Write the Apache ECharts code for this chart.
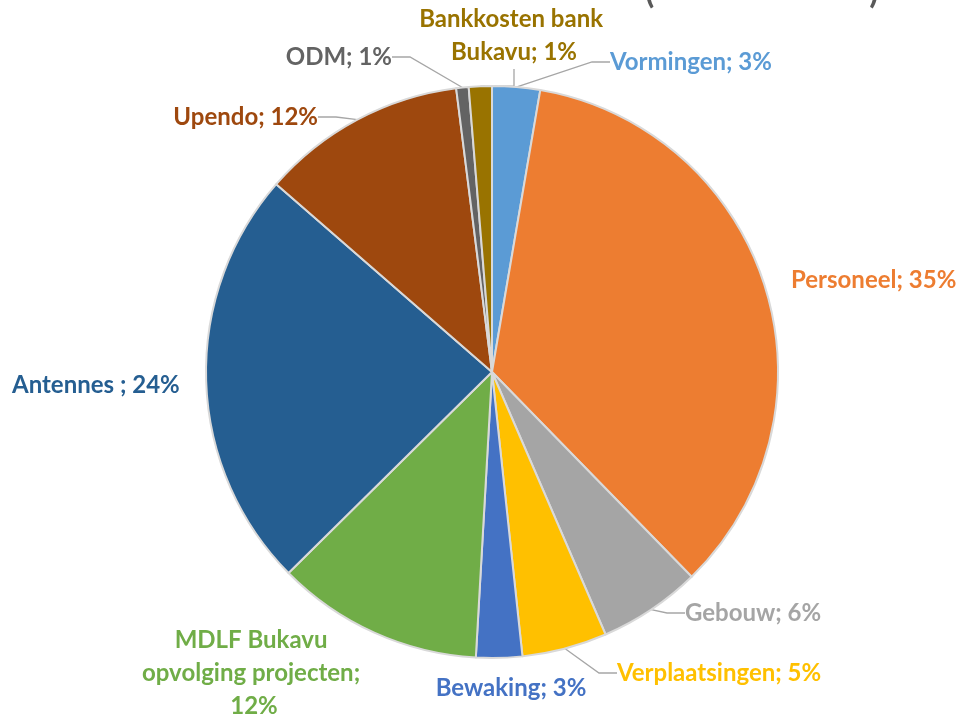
<!DOCTYPE html>
<html>
<head>
<meta charset="utf-8">
<script src="https://cdn.jsdelivr.net/npm/echarts@6/dist/echarts.min.js"></script>
<style>
html,body{margin:0;padding:0;background:#fff;}
#chart{width:962px;height:720px;}
</style>
</head>
<body>
<div id="chart"></div>
<script>
// Data (percent shares)
const categories = ['Vormingen', 'Personeel', 'Gebouw', 'Verplaatsingen', 'Bewaking',
  'MDLF Bukavu opvolging projecten', 'Antennes ', 'Upendo', 'ODM', 'Bankkosten bank Bukavu'];
const values = [2.7, 35.0, 5.8, 4.8, 2.6, 11.7, 23.8, 11.6, 0.7, 1.3];
const colors = ['#5B9BD5', '#ED7D31', '#A5A5A5', '#FFC000', '#4472C4',
  '#70AD47', '#255E91', '#9E480E', '#636363', '#997300'];
const showLeader = [true, false, true, true, false, false, false, true, true, true];

// label placement (layout only)
const labelPos = [
  {x: 610, y: 62, align: 'left'},
  {x: 791, y: 280, align: 'left'},
  {x: 685, y: 613, align: 'left'},
  {x: 617, y: 673, align: 'left'},
  {x: 511, y: 688, align: 'center'},
  {x: 254, y: 673, align: 'center'},
  {x: 12, y: 385, align: 'left'},
  {x: 318, y: 117, align: 'right'},
  {x: 392, y: 57, align: 'right'},
  {x: 514, y: 36, align: 'center'}
];
const labelWidth = [null, null, null, null, null, 240, null, null, null, 210];

const chart = echarts.init(document.getElementById('chart'), null, {renderer: 'canvas'});
const data = categories.map((n, i) => {
  const item = {
    name: n,
    value: values[i],
    itemStyle: {color: colors[i]},
    label: {color: colors[i], overflow: 'none'},
    labelLine: {show: showLeader[i]}
  };
  if (labelWidth[i]) {
    item.label.width = labelWidth[i];
    item.label.overflow = 'break';
    item.label.align = 'center';
  }
  return item;
});

chart.setOption({
  animation: false,
  title: {
    text: '(                          )',
    left: 640,
    top: -30,
    textStyle: {fontFamily: 'Lato', fontWeight: 'bold', fontSize: 34, color: '#595959'}
  },
  series: [{
    type: 'pie',
    center: [492, 372],
    radius: 286,
    startAngle: 90,
    clockwise: true,
    data: data,
    itemStyle: {borderColor: '#D9D9D9', borderWidth: 2},
    label: {
      show: true,
      position: 'outside',
      overflow: 'none',
      fontFamily: 'Lato',
      fontWeight: 'bold',
      fontSize: 24,
      lineHeight: 33,
      formatter: p => p.name + '; ' + Math.round(p.percent) + '%'
    },
    labelLine: {
      show: true,
      length: 10,
      length2: 18,
      lineStyle: {color: '#A6A6A6', width: 1.3}
    },
    labelLayout: function (params) {
      const lp = labelPos[params.dataIndex];
      return {x: lp.x, y: lp.y, align: lp.align, verticalAlign: 'middle'};
    }
  }]
});
</script>
</body>
</html>
